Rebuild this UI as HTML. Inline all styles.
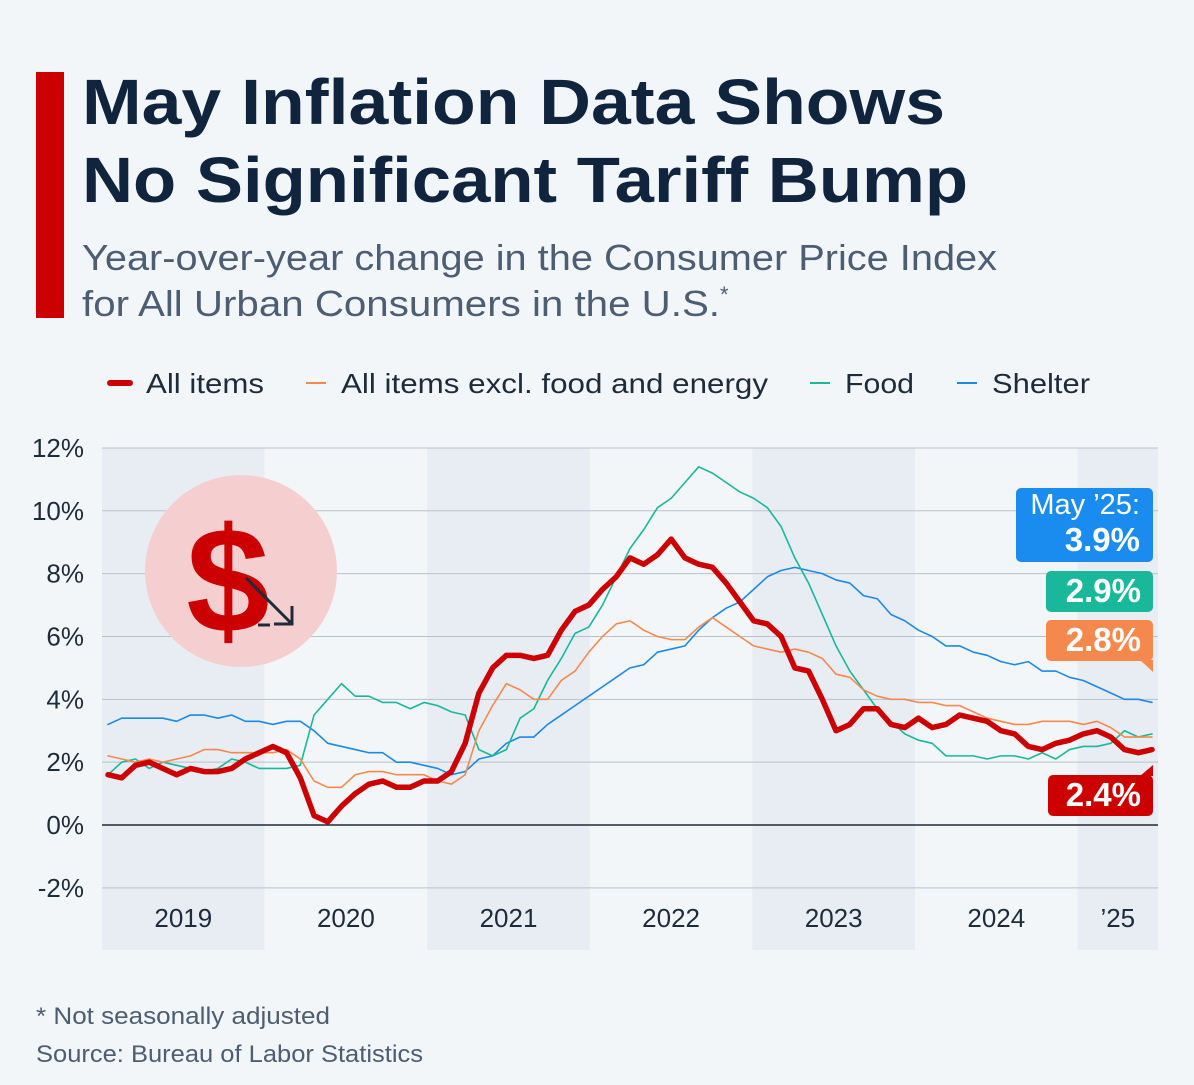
<!DOCTYPE html>
<html><head><meta charset="utf-8">
<style>
body{margin:0;background:#f3f6f9;width:1194px;height:1085px;overflow:hidden;font-family:"Liberation Sans","DejaVu Sans",sans-serif;}
svg{display:block}
</style></head>
<body>
<svg width="1194" height="1085" font-family="Liberation Sans, DejaVu Sans, sans-serif">
<rect x="0" y="0" width="1194" height="1085" fill="#f3f6f9"/>
<rect x="36" y="72" width="28" height="246" fill="#cc0000"/>
<text x="82" y="124" font-size="64" font-weight="bold" fill="#10243e" textLength="863" lengthAdjust="spacingAndGlyphs">May Inflation Data Shows</text>
<text x="82" y="202" font-size="64" font-weight="bold" fill="#10243e" textLength="886" lengthAdjust="spacingAndGlyphs">No Significant Tariff Bump</text>
<text x="82" y="270" font-size="36" fill="#4d5d72" textLength="915" lengthAdjust="spacingAndGlyphs">Year-over-year change in the Consumer Price Index</text>
<text x="82" y="316" font-size="36" fill="#4d5d72"><tspan textLength="638" lengthAdjust="spacingAndGlyphs">for All Urban Consumers in the U.S.</tspan><tspan font-size="22" dy="-14">*</tspan></text>

<g font-size="28" fill="#1e2b3a">
<g><line x1="110" y1="383" x2="130" y2="383" stroke="#cc0000" stroke-width="6" stroke-linecap="round"/><text x="146" y="393" textLength="118" lengthAdjust="spacingAndGlyphs">All items</text></g>
<g><line x1="306" y1="383" x2="326" y2="383" stroke="#f5894d" stroke-width="2"/><text x="341" y="393" textLength="427" lengthAdjust="spacingAndGlyphs">All items excl. food and energy</text></g>
<g><line x1="810" y1="383" x2="830" y2="383" stroke="#19b89a" stroke-width="2"/><text x="845" y="393" textLength="69" lengthAdjust="spacingAndGlyphs">Food</text></g>
<g><line x1="957" y1="383" x2="977" y2="383" stroke="#1a8ae6" stroke-width="2"/><text x="992" y="393" textLength="98" lengthAdjust="spacingAndGlyphs">Shelter</text></g>
</g>

<g id="bands"></g>
<g id="grid"></g>
<g id="icon">
<circle cx="241" cy="571" r="96" fill="#f5cfd0"/>
<text x="228" y="632" font-size="150" font-weight="bold" fill="#cc0000" text-anchor="middle">$</text>
<line x1="246" y1="578" x2="292" y2="624" stroke="#1e2b3a" stroke-width="3"/>
<polyline points="292,606 292,624 274,624" fill="none" stroke="#1e2b3a" stroke-width="3"/>
<line x1="258" y1="625" x2="270" y2="625" stroke="#1e2b3a" stroke-width="3"/>
</g>
<g id="series"></g>

<g font-weight="bold" fill="#fff">
<g><rect x="1016" y="488" width="137" height="74" rx="5" fill="#1a8cf0"/><text x="1140" y="514" font-size="29" font-weight="normal" text-anchor="end" fill="#fff">May ’25:</text><text x="1140" y="551" font-size="33" text-anchor="end" fill="#fff">3.9%</text></g>
<g><rect x="1046" y="571" width="107" height="41" rx="5" fill="#19b89a"/><text x="1141" y="602" font-size="33" text-anchor="end" fill="#fff">2.9%</text></g>
<g><rect x="1046" y="620" width="107" height="41" rx="5" fill="#f5894d"/><polygon points="1140,660 1153,660 1153,672" fill="#f5894d"/><text x="1141" y="651" font-size="33" text-anchor="end" fill="#fff">2.8%</text></g>
<g><rect x="1048" y="775" width="105" height="41" rx="5" fill="#cc0000"/><polygon points="1140,776 1153,765 1153,776" fill="#cc0000"/><text x="1141" y="806" font-size="33" text-anchor="end" fill="#fff">2.4%</text></g>
</g>

<text x="36" y="1024" font-size="24" fill="#4d5d72" textLength="294" lengthAdjust="spacingAndGlyphs">* Not seasonally adjusted</text>
<text x="36" y="1062" font-size="24" fill="#4d5d72" textLength="387" lengthAdjust="spacingAndGlyphs">Source: Bureau of Labor Statistics</text>
</svg>
<script>
const yTicks=[-2,0,2,4,6,8,10,12];
const yearLabels=["2019","2020","2021","2022","2023","2024","’25"];
const allItems=[1.6,1.5,1.9,2.0,1.8,1.6,1.8,1.7,1.7,1.8,2.1,2.3, 2.5,2.3,1.5,0.3,0.1,0.6,1.0,1.3,1.4,1.2,1.2,1.4, 1.4,1.7,2.6,4.2,5.0,5.4,5.4,5.3,5.4,6.2,6.8,7.0, 7.5,7.9,8.5,8.3,8.6,9.1,8.5,8.3,8.2,7.7,7.1,6.5, 6.4,6.0,5.0,4.9,4.0,3.0,3.2,3.7,3.7,3.2,3.1,3.4, 3.1,3.2,3.5,3.4,3.3,3.0,2.9,2.5,2.4,2.6,2.7,2.9, 3.0,2.8,2.4,2.3,2.4];
const core=[2.2,2.1,2.0,2.1,2.0,2.1,2.2,2.4,2.4,2.3,2.3,2.3, 2.3,2.4,2.1,1.4,1.2,1.2,1.6,1.7,1.7,1.6,1.6,1.6, 1.4,1.3,1.6,3.0,3.8,4.5,4.3,4.0,4.0,4.6,4.9,5.5, 6.0,6.4,6.5,6.2,6.0,5.9,5.9,6.3,6.6,6.3,6.0,5.7, 5.6,5.5,5.6,5.5,5.3,4.8,4.7,4.3,4.1,4.0,4.0,3.9, 3.9,3.8,3.8,3.6,3.4,3.3,3.2,3.2,3.3,3.3,3.3,3.2, 3.3,3.1,2.8,2.8,2.8];
const food=[1.6,2.0,2.1,1.8,2.0,1.9,1.8,1.7,1.8,2.1,2.0,1.8, 1.8,1.8,1.9,3.5,4.0,4.5,4.1,4.1,3.9,3.9,3.7,3.9, 3.8,3.6,3.5,2.4,2.2,2.4,3.4,3.7,4.6,5.3,6.1,6.3, 7.0,7.9,8.8,9.4,10.1,10.4,10.9,11.4,11.2,10.9,10.6,10.4, 10.1,9.5,8.5,7.7,6.7,5.7,4.9,4.3,3.7,3.3,2.9,2.7, 2.6,2.2,2.2,2.2,2.1,2.2,2.2,2.1,2.3,2.1,2.4,2.5, 2.5,2.6,3.0,2.8,2.9];
const shelter=[3.2,3.4,3.4,3.4,3.4,3.3,3.5,3.5,3.4,3.5,3.3,3.3, 3.2,3.3,3.3,3.0,2.6,2.5,2.4,2.3,2.3,2.0,2.0,1.9, 1.8,1.6,1.7,2.1,2.2,2.6,2.8,2.8,3.2,3.5,3.8,4.1, 4.4,4.7,5.0,5.1,5.5,5.6,5.7,6.2,6.6,6.9,7.1,7.5, 7.9,8.1,8.2,8.1,8.0,7.8,7.7,7.3,7.2,6.7,6.5,6.2, 6.0,5.7,5.7,5.5,5.4,5.2,5.1,5.2,4.9,4.9,4.7,4.6, 4.4,4.2,4.0,4.0,3.9];

const NS="http://www.w3.org/2000/svg";
const X0=102, YW=162.6, TOPY=448, BOTY=950;
const yScale=v=>825-v*31.42;
const xm=i=>108+i*(1152-108)/76;
function mk(t,a,p){const e=document.createElementNS(NS,t);for(const k in a)e.setAttribute(k,a[k]);p.appendChild(e);return e;}
const bands=document.getElementById('bands');
yearLabels.forEach((lab,i)=>{
  const x=X0+i*YW, w=i==6?1158-x:YW;
  const r=mk('rect',{x:x,y:TOPY,width:w,height:BOTY-TOPY,fill:i%2==0?'#e8edf4':'#f3f6f9'},bands);
  
  
  const t=mk('text',{x:x+w/2,y:927,'font-size':26,fill:'#1e2b3a','text-anchor':'middle'},bands);
  t.textContent=lab;
  
  
});
const grid=document.getElementById('grid');
yTicks.forEach(v=>{
  const l=mk('line',{x1:102,x2:1158,y1:yScale(v),y2:yScale(v),stroke:v==0?'#1e2b3a':'#b8c1cc','stroke-width':v==0?1.5:1},grid);
  
  
  const t=mk('text',{x:84,y:yScale(v)+9,'font-size':26,fill:'#1e2b3a','text-anchor':'end'},grid);
  t.textContent=v+'%';
  
  
});
const sg=document.getElementById('series');
function line(d,c,w,n){
  const p=mk('polyline',{points:d.map((v,i)=>xm(i)+','+yScale(v)).join(' '),fill:'none',stroke:c,'stroke-width':w,'stroke-linejoin':'round','stroke-linecap':'round'},sg);
  
  
}
line(shelter,'#1a8ae6',1.6,'shelter-line');
line(food,'#19b89a',1.6,'food-line');
line(core,'#f5894d',1.6,'core-line');
line(allItems,'#cc0000',5.5,'all-items-line');
</script>
</body></html>
